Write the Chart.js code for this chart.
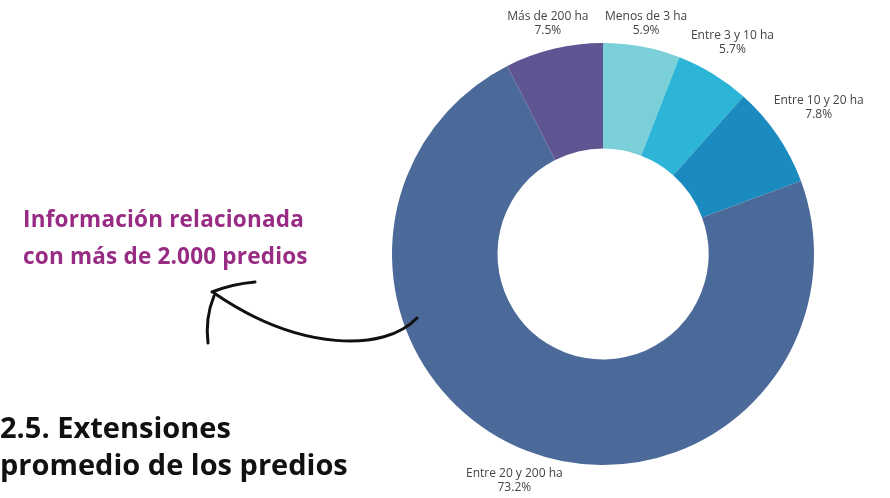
<!DOCTYPE html>
<html>
<head>
<meta charset="utf-8">
<script src="https://cdn.jsdelivr.net/npm/chart.js@4"></script>
<style>
    html, body { margin: 0; padding: 0; background: #fff; }
    #wrap { position: relative; width: 890px; height: 498px; overflow: hidden; font-family: 'Open Sans', sans-serif; }
    #chartBox { position: absolute; left: 0; top: 0; width: 890px; height: 498px; }
    .note { position: absolute; left: 23px; top: 200px; color: #982b84; font-weight: 700; font-size: 22.5px; line-height: 37px; letter-spacing: 0.2px; }
    .title { position: absolute; left: 0; top: 408px; color: #111; font-weight: 700; font-size: 29px; line-height: 37px; }
    svg { position: absolute; left: 0; top: 0; }
</style>
</head>
<body>
<div id="wrap">
    <div id="chartBox"><canvas id="donut"></canvas></div>
    <div class="note">Información relacionada<br>con más de 2.000 predios</div>
    <div class="title">2.5. Extensiones<br>promedio de los predios</div>
    <svg width="890" height="498">
        <g fill="none" stroke="#111" stroke-width="3" stroke-linecap="round">
            <path d="M417 318 C 385 352, 300 352, 214 293" />
            <path d="M255 282 Q 232 284 212 292" />
            <path d="M214 296 Q 205 318 208 343" />
        </g>
    </svg>
</div>

<script>
const categories = ['Menos de 3 ha', 'Entre 3 y 10 ha', 'Entre 10 y 20 ha', 'Entre 20 y 200 ha', 'Más de 200 ha'];
const shares = [5.9, 5.7, 7.8, 73.2, 7.5];
const sliceColors = ['#7acfd8', '#2cb5d6', '#1b8abf', '#4b6a99', '#5f5592'];

// labels sit outside the ring, pushed out along the mid angle until the box clears the circle
const outsideLabels = {
    id: 'outsideLabels',
    afterDraw(chart) {
        const ctx = chart.ctx;
        const meta = chart.getDatasetMeta(0);
        const fontSize = 12;
        const lineH = 14;
        ctx.save();
        ctx.font = fontSize + 'px "Open Sans", sans-serif';
        ctx.fillStyle = '#444';
        ctx.textAlign = 'center';
        ctx.textBaseline = 'middle';
        meta.data.forEach((arc, i) => {
            const { x, y, startAngle, endAngle, outerRadius } = arc.getProps(['x', 'y', 'startAngle', 'endAngle', 'outerRadius'], true);
            const mid = (startAngle + endAngle) / 2;
            const lines = [categories[i], shares[i].toFixed(1) + '%'];
            const w = Math.max(...lines.map(t => ctx.measureText(t).width));
            const h = lines.length * lineH;
            const minDist = outerRadius + 5;
            let d = outerRadius;
            let cx, cy;
            for (; d < outerRadius + 200; d += 0.5) {
                cx = x + Math.cos(mid) * d;
                cy = y + Math.sin(mid) * d;
                const nx = Math.max(cx - w / 2, Math.min(x, cx + w / 2));
                const ny = Math.max(cy - h / 2, Math.min(y, cy + h / 2));
                if (Math.hypot(nx - x, ny - y) >= minDist) break;
            }
            lines.forEach((t, k) => {
                ctx.fillText(t, cx, cy - h / 2 + lineH * (k + 0.5));
            });
        });
        ctx.restore();
    }
};

document.addEventListener('DOMContentLoaded', () => {
    const ctx = document.getElementById('donut').getContext('2d');
    new Chart(ctx, {
        type: 'doughnut',
        data: {
            labels: categories,
            datasets: [{
                data: shares,
                backgroundColor: sliceColors,
                borderWidth: 0
            }]
        },
        options: {
            responsive: true,
            maintainAspectRatio: false,
            animation: false,
            cutout: '50%',
            layout: { padding: { left: 392, right: 76, top: 43, bottom: 33 } },
            plugins: {
                legend: { display: false },
                tooltip: { enabled: false }
            }
        },
        plugins: [outsideLabels]
    });
});
</script>
</body>
</html>
